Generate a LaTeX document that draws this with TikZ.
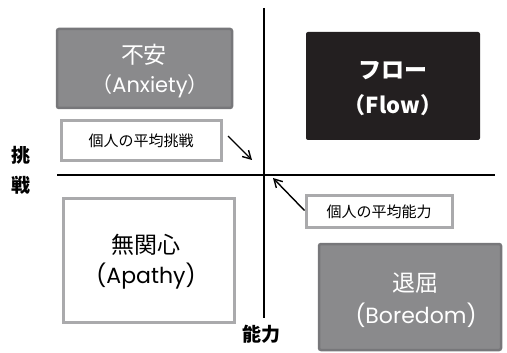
\documentclass[tikz,border=0pt]{standalone}
\usepackage{fontspec}
\setmainfont{Noto Sans CJK JP}
\newfontfamily\lat{Poppins}
\usetikzlibrary{arrows.meta}
\definecolor{boxgray}{HTML}{8A8A8C}
\definecolor{boxedge}{HTML}{77777A}
\definecolor{lightedge}{HTML}{AAAAAC}
\definecolor{flowblack}{HTML}{231F20}
\tikzset{
  graybox/.style={draw=boxedge, line width=2.5pt, fill=boxgray, rounded corners=2pt, inner sep=0pt},
  flowbox/.style={fill=flowblack, rounded corners=2pt, inner sep=0pt},
  whitebox/.style={draw=lightedge, line width=3pt, fill=white, inner sep=0pt},
  jtext/.style={font=\fontsize{23}{25}\selectfont, inner sep=0pt},
  ltext/.style={font=\lat\fontsize{22}{24}\selectfont, inner sep=0pt},
  tagbox/.style={draw=lightedge, line width=3pt, fill=white, font=\fontsize{15}{17}\selectfont, inner sep=0pt},
  axis/.style={line width=2.2pt, black},
  pointer/.style={line width=1.4pt, -{Straight Barb[length=8pt, width=9pt, line width=1.4pt]}},
  axlabel/.style={font=\fontsize{19}{21}\selectfont\bfseries, inner sep=0pt}
}
\begin{document}
\begin{tikzpicture}[x=1pt, y=-1pt]
\useasboundingbox (0,0) rectangle (507,353);
% axes
\coordinate (vtop) at (264,8);
\coordinate (vbot) at (264,318);
\coordinate (hl) at (57,175);
\coordinate (hr) at (495,175);
\draw[axis] (vtop) -- (vbot);
\draw[axis] (hl) -- (hr);
% quadrant boxes
\node[graybox, minimum width=175pt, minimum height=79pt] (anx) at (144.5,68.5) {};
\node[jtext, text=white] (anx1) at (144,55) {不安};
\node[jtext, text=white, font=\fontsize{21}{24}\selectfont] (anx2) at (150,86) {（{\lat\fontsize{21}{24}\selectfont Anxiety}）};
\node[flowbox, minimum width=174pt, minimum height=108pt] (flow) at (393,86) {};
\node[jtext, text=white, font=\fontsize{23}{25}\selectfont\bfseries] (flow1) at (393,71) {フロー};
\node[jtext, text=white, font=\fontsize{22}{25}\selectfont\bfseries] (flow2) at (393,105) {（Flow）};
\node[whitebox, minimum width=171pt, minimum height=123pt] (apa) at (148.5,260.5) {};
\node[jtext] (apa1) at (146,245) {無関心};
\node[ltext] (apa2) at (146,276) {(Apathy)};
\node[graybox, minimum width=182pt, minimum height=106pt] (bor) at (410,297) {};
\node[jtext, text=white] (bor1) at (415,283) {退屈};
\node[ltext, text=white] (bor2) at (416,315) {(Boredom)};
% tags
\node[tagbox, minimum width=160pt, minimum height=40pt] (tc) at (141,141) {個人の平均挑戦};
\node[tagbox, minimum width=146pt, minimum height=31pt] (tn) at (379,211.5) {個人の平均能力};
% pointers
\coordinate (p1) at (252,160);
\coordinate (p2) at (273,178);
\draw[pointer] (228,136) -- (p1);
\draw[pointer] (tn.west) ++(0,-1) -- (p2);
% axis labels
\node[axlabel] (lc) at (21,155) {挑};
\node[axlabel] (ln) at (21,185) {戦};
\node[axlabel, anchor=west] (la) at (242,334) {能力};
\end{tikzpicture}
\end{document}
